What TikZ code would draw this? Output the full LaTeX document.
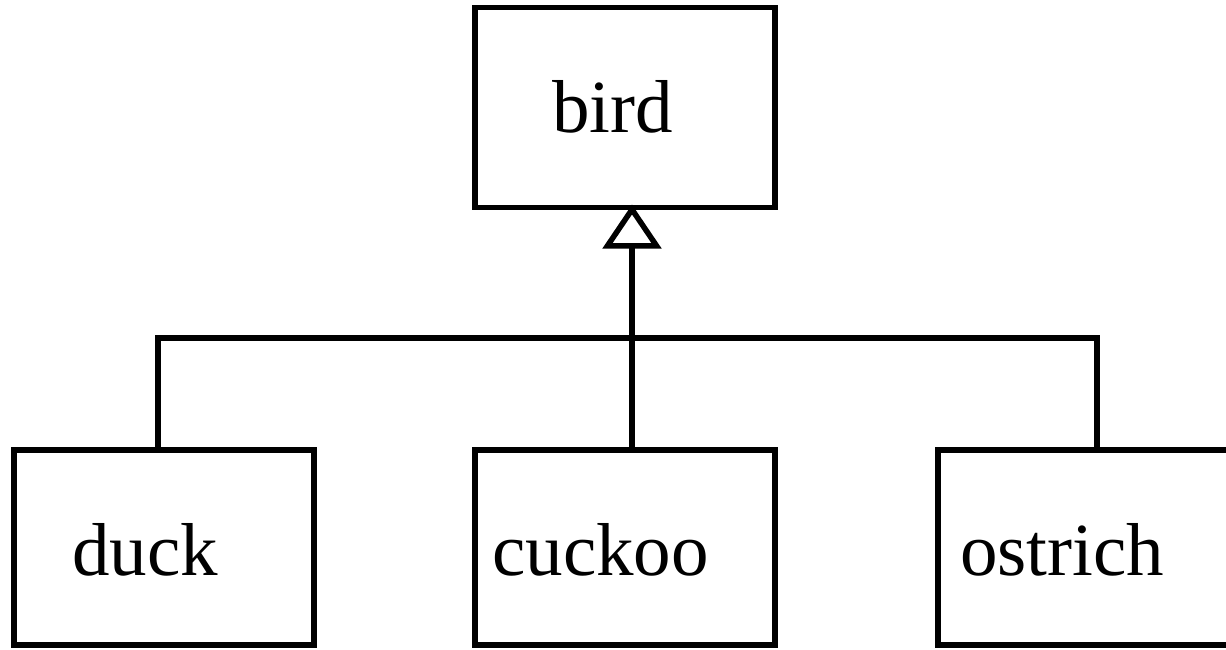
\documentclass[tikz,border=0pt]{standalone}
\usepackage{fontspec}
\setmainfont{Liberation Serif}
\usetikzlibrary{arrows.meta}
\begin{document}
\begin{tikzpicture}[x=1pt,y=-1pt,
  box/.style={draw, line width=5.5pt, minimum width=300pt, outer sep=0pt, inner sep=0pt},
  lbl/.style={anchor=base west, inner sep=0pt, font=\fontsize{75}{80}\selectfont},
  conn/.style={line width=5.5pt}]
\useasboundingbox (0,0) rectangle (1226,649);
\node[box, minimum height=200pt] (bird) at (625,107.5) {};
\node[box, minimum height=195pt] (duck) at (164,547.5) {};
\node[box, minimum height=195pt] (cuckoo) at (625,547.5) {};
\node[box, minimum height=195pt] (ostrich) at (1088,547.5) {};
\node[lbl] (tbird) at (552,132) {bird};
\node[lbl] (tduck) at (72,575) {duck};
\node[lbl] (tcuckoo) at (492,575) {cuckoo};
\node[lbl] (tostrich) at (960,575) {ostrich};
\coordinate (junc) at (632,338);
\draw[conn, -{Triangle[open, length=44pt, width=58pt, line width=5.5pt]}] (cuckoo.north -| junc) -- ([yshift=3pt]bird.south -| junc);
\draw[conn] (duck.north -| 158,0) |- (junc) -| (ostrich.north -| 1097,0);
\end{tikzpicture}
\end{document}
